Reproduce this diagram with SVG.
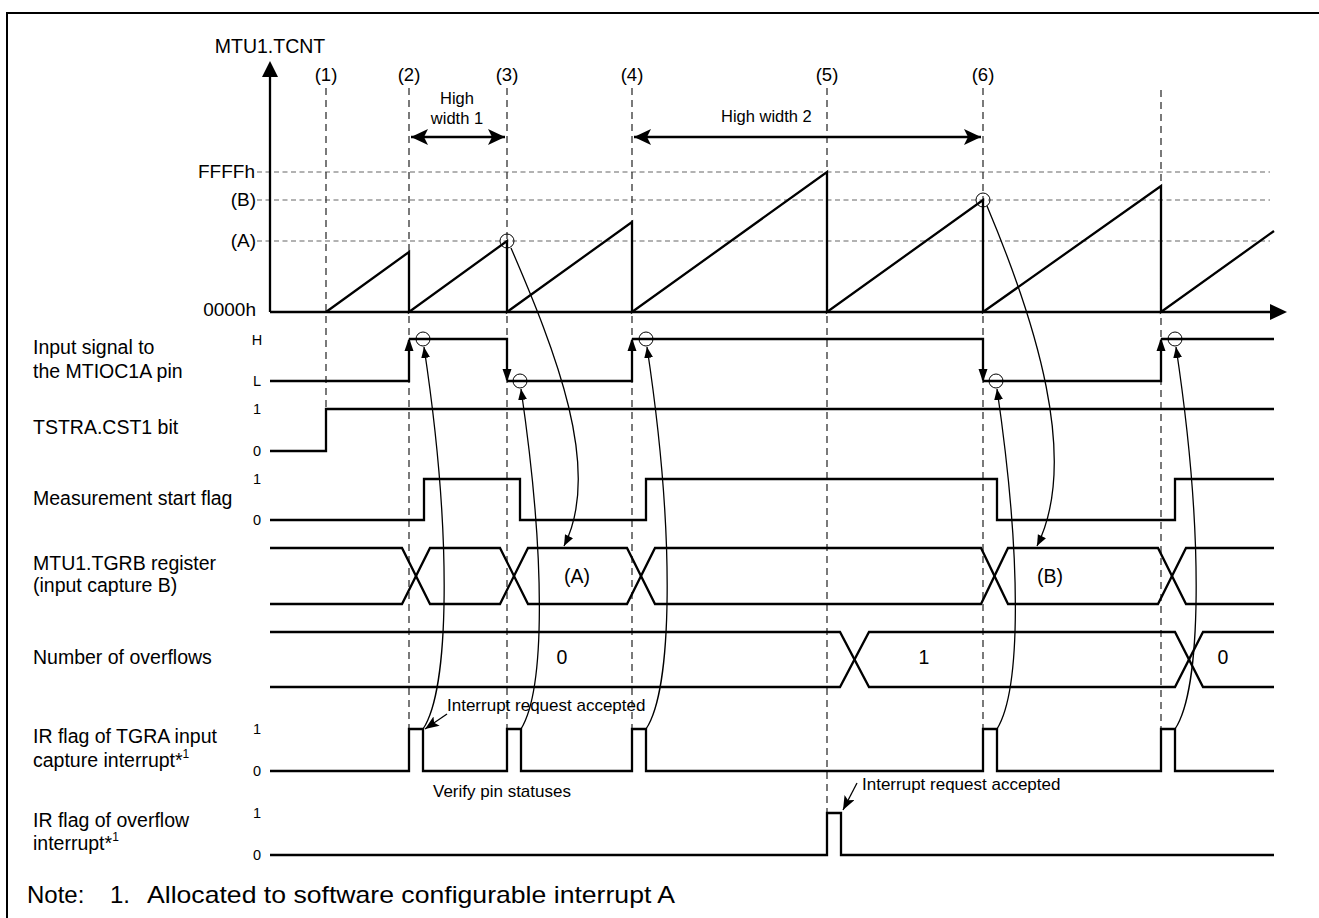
<svg xmlns="http://www.w3.org/2000/svg" width="1319" height="918" viewBox="0 0 1319 918">
<style>
text{font-family:"Liberation Sans",Arial,sans-serif;fill:#000}
.lbl{font-size:19.5px}
.sm{font-size:14.5px;text-anchor:middle}
.mid{text-anchor:middle}
.end{text-anchor:end}
.ann{font-size:17px}
.w{fill:none;stroke:#000;stroke-width:2.3;stroke-linejoin:miter}
.vd{fill:none;stroke:#333;stroke-width:1.3;stroke-dasharray:7 5}
.hd{fill:none;stroke:#999;stroke-width:1.3;stroke-dasharray:5 3.5}
.cv{fill:none;stroke:#000;stroke-width:1.3}
.ring{fill:none;stroke:#000;stroke-width:1}
.ah{fill:#000;stroke:none}
</style>
<defs>
<marker id="mh" markerUnits="userSpaceOnUse" markerWidth="14" markerHeight="10" refX="11" refY="4.5" orient="auto">
<path d="M0,0 L11,4.5 L0,9 z" fill="#000"/>
</marker>
<marker id="mh2" markerUnits="userSpaceOnUse" markerWidth="16" markerHeight="12" refX="14" refY="5.5" orient="auto">
<path d="M0,0 L14,5.5 L0,11 L3,5.5 z" fill="#000"/>
</marker>
<marker id="hw" markerUnits="userSpaceOnUse" markerWidth="20" markerHeight="18" refX="17" refY="8" orient="auto-start-reverse">
<path d="M0,0 L17,8 L0,16 L4,8 z" fill="#000"/>
</marker>
</defs>

<path d="M7,918 V13 H1319" fill="none" stroke="#000" stroke-width="2"/>

<g id="guides">
<line class="hd" x1="257" y1="172" x2="1270" y2="172"/>
<line class="hd" x1="257" y1="200" x2="1270" y2="200"/>
<line class="hd" x1="257" y1="241" x2="1270" y2="241"/>
<line class="vd" x1="326" y1="88" x2="326" y2="409"/>
<line class="vd" x1="409" y1="88" x2="409" y2="729"/>
<line class="vd" x1="507" y1="88" x2="507" y2="729"/>
<line class="vd" x1="632" y1="88" x2="632" y2="729"/>
<line class="vd" x1="827" y1="88" x2="827" y2="813"/>
<line class="vd" x1="983" y1="88" x2="983" y2="729"/>
<line class="vd" x1="1161" y1="90" x2="1161" y2="729"/>
<text class="lbl mid" x="326" y="81" style="font-size:18.5px">(1)</text>
<text class="lbl mid" x="409" y="81" style="font-size:18.5px">(2)</text>
<text class="lbl mid" x="507" y="81" style="font-size:18.5px">(3)</text>
<text class="lbl mid" x="632" y="81" style="font-size:18.5px">(4)</text>
<text class="lbl mid" x="827" y="81" style="font-size:18.5px">(5)</text>
<text class="lbl mid" x="983" y="81" style="font-size:18.5px">(6)</text>
</g>

<g id="high-width">
<line x1="411" y1="137" x2="505" y2="137" stroke="#000" stroke-width="2.3" marker-start="url(#hw)" marker-end="url(#hw)"/>
<line x1="634" y1="137" x2="981" y2="137" stroke="#000" stroke-width="2.3" marker-start="url(#hw)" marker-end="url(#hw)"/>
<text class="mid" x="457" y="104" style="font-size:16.5px">High</text>
<text class="mid" x="457" y="124" style="font-size:16.5px">width 1</text>
<text x="721" y="122" style="font-size:16.5px">High width 2</text>
</g>

<g id="tcnt">
<path class="w" d="M270,312 V76"/>
<polygon class="ah" points="270,61 262,77 278,77"/>
<path class="w" d="M270,312 H1272"/>
<polygon class="ah" points="1287,312 1270,304 1270,320"/>
<path class="w" d="M326,312 L409,252 V312 L507,241 V312 L632,222 V312 L827,172 V312 L983,200 V312 L1161,186 V312 L1274,231"/>
<circle class="ring" cx="507" cy="241" r="7"/>
<circle class="ring" cx="983" cy="200" r="7"/>
<text class="lbl mid" x="270" y="53">MTU1.TCNT</text>
<text class="lbl end" x="255" y="178" style="font-size:19px">FFFFh</text>
<text class="lbl end" x="256" y="206" style="font-size:19px">(B)</text>
<text class="lbl end" x="256" y="247" style="font-size:19px">(A)</text>
<text class="lbl end" x="256" y="316" style="font-size:19px">0000h</text>
</g>

<g id="input-signal">
<text class="lbl" x="33" y="354">Input signal to</text>
<text class="lbl" x="33" y="378">the MTIOC1A pin</text>
<text class="sm" x="257" y="345">H</text>
<text class="sm" x="257" y="386">L</text>
<path class="w" d="M270,381 H409 V340 M409,339 H507 V380 M507,381 H632 V340 M632,339 H983 V380 M983,381 H1161 V340 M1161,339 H1274"/>
<polygon class="ah" points="409,338 404.5,351 413.5,351"/>
<polygon class="ah" points="507,382 502.5,369 511.5,369"/>
<polygon class="ah" points="632,338 627.5,351 636.5,351"/>
<polygon class="ah" points="983,382 978.5,369 987.5,369"/>
<polygon class="ah" points="1161,338 1156.5,351 1165.5,351"/>
<circle class="ring" cx="423" cy="339" r="7"/>
<circle class="ring" cx="520" cy="381" r="7"/>
<circle class="ring" cx="646" cy="339" r="7"/>
<circle class="ring" cx="996" cy="381" r="7"/>
<circle class="ring" cx="1175" cy="339" r="7"/>
</g>

<g id="tstra">
<text class="lbl" x="33" y="434">TSTRA.CST1 bit</text>
<text class="sm" x="257" y="414">1</text>
<text class="sm" x="257" y="456">0</text>
<path class="w" d="M270,451 H326 V409 H1274"/>
</g>

<g id="measurement-start-flag">
<text class="lbl" x="33" y="505">Measurement start flag</text>
<text class="sm" x="257" y="484">1</text>
<text class="sm" x="257" y="525">0</text>
<path class="w" d="M270,520 H424 V479 H520 V520 H646 V479 H997 V520 H1175 V479 H1274"/>
</g>

<g id="tgrb">
<text class="lbl" x="33" y="570">MTU1.TGRB register</text>
<text class="lbl" x="33" y="592">(input capture B)</text>
<path class="w" d="M270,548 H402 L430,604 H500 L528,548 H627 L655,604 H981 L1008,548 H1158 L1186,604 H1274"/>
<path class="w" d="M270,604 H402 L430,548 H500 L528,604 H627 L655,548 H981 L1008,604 H1158 L1186,548 H1274"/>
<text class="lbl mid" x="577" y="583">(A)</text>
<text class="lbl mid" x="1050" y="583">(B)</text>
</g>

<g id="overflows">
<text class="lbl" x="33" y="664">Number of overflows</text>
<path class="w" d="M270,632 H840 L869,687 H1175 L1203,632 H1274"/>
<path class="w" d="M270,687 H840 L869,632 H1175 L1203,687 H1274"/>
<text class="lbl mid" x="562" y="664">0</text>
<text class="lbl mid" x="924" y="664">1</text>
<text class="lbl mid" x="1223" y="664">0</text>
</g>

<g id="ir-tgra">
<text class="lbl" x="33" y="743">IR flag of TGRA input</text>
<text class="lbl" x="33" y="767">capture interrupt*<tspan font-size="12" dy="-9">1</tspan></text>
<text class="sm" x="257" y="734">1</text>
<text class="sm" x="257" y="776">0</text>
<path class="w" d="M270,771 H409 V729 H423 V771 H507 V729 H521 V771 H632 V729 H646 V771 H983 V729 H997 V771 H1161 V729 H1175 V771 H1274"/>
</g>

<g id="ir-overflow">
<text class="lbl" x="33" y="827">IR flag of overflow</text>
<text class="lbl" x="33" y="850">interrupt*<tspan font-size="12" dy="-9">1</tspan></text>
<text class="sm" x="257" y="818">1</text>
<text class="sm" x="257" y="860">0</text>
<path class="w" d="M270,855 H827 V813 H841 V855 H1274"/>
</g>

<g id="annotations">
<text class="ann" x="447" y="711">Interrupt request accepted</text>
<text class="ann" x="433" y="797">Verify pin statuses</text>
<text class="ann" x="862" y="790">Interrupt request accepted</text>
</g>

<g id="connectors">
<path class="cv" d="M511,248 C555,350 603,470 564,546" marker-end="url(#mh)"/>
<path class="cv" d="M987,206 C1035,320 1080,460 1037,546" marker-end="url(#mh)"/>
<path class="cv" d="M423,729 C449,690 453,540 424,347" marker-end="url(#mh)"/>
<path class="cv" d="M521,729 C545,690 546,560 521,389" marker-end="url(#mh)"/>
<path class="cv" d="M646,729 C672,690 676,540 647,347" marker-end="url(#mh)"/>
<path class="cv" d="M997,729 C1021,690 1022,560 997,389" marker-end="url(#mh)"/>
<path class="cv" d="M1175,729 C1201,690 1205,540 1176,347" marker-end="url(#mh)"/>
<path class="cv" d="M447,714 L425,729" stroke-width="1.8" marker-end="url(#mh2)"/>
<path class="cv" d="M857,783 L843,810" stroke-width="1.8" marker-end="url(#mh2)"/>
</g>

<g id="note">
<text x="27" y="903" style="font-size:24px">Note:</text>
<text x="110" y="903" style="font-size:24px">1.</text>
<text x="147" y="903" style="font-size:24px" textLength="528" lengthAdjust="spacingAndGlyphs">Allocated to software configurable interrupt A</text>
</g>
</svg>
